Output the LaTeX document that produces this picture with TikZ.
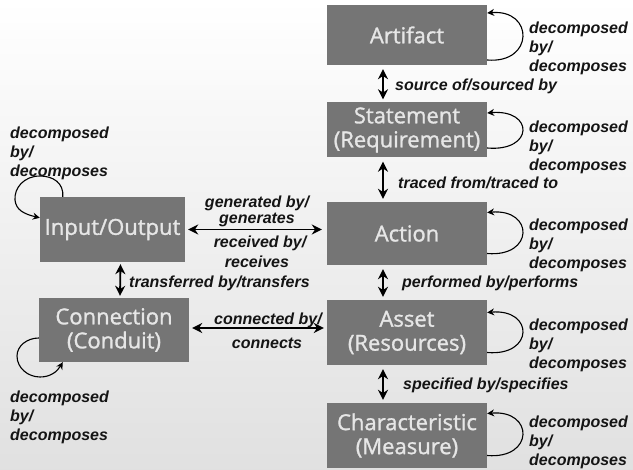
\documentclass[tikz,border=0pt]{standalone}
\usepackage{fontspec}
\newfontfamily\boxfont{Open Sans}[FakeBold=1.3]
\newfontfamily\lblfont{Liberation Sans}
\usetikzlibrary{arrows.meta,calc}
\definecolor{boxgray}{HTML}{757575}
\definecolor{boxtext}{HTML}{E6E6E6}
\begin{document}
\begin{tikzpicture}[x=1pt,y=-1pt,
  box/.style={fill=boxgray, text=boxtext, font=\boxfont\fontsize{22}{24}\selectfont,
    align=center, inner sep=0pt, minimum width=160pt},
  lbl/.style={font=\lblfont\bfseries\itshape\fontsize{16}{19}\selectfont, align=left, inner sep=0pt, text=black!92},
  clbl/.style={lbl, align=center},
  dbl/.style={{Stealth[length=10pt,width=10pt]}-{Stealth[length=10pt,width=10pt]}, line width=1.8pt},
  selfloop/.style={-{Stealth[length=7pt,width=7pt]}, line width=1.1pt}]
\useasboundingbox (0,0) rectangle (633,470);
\fill[top color=white, bottom color=black!12] (0,0) rectangle (633,470);

% right column
\node[box, minimum height=60pt] (art) at (407,35) {Artifact};
\node[box, minimum height=55pt] (stm) at (407,130) {Statement\\(Requirement)};
\node[box, minimum height=63pt] (act) at (407,233.5) {Action};
\node[box, minimum height=65pt] (ast) at (407,332.5) {Asset\\(Resources)};
\node[box, minimum height=65pt] (chr) at (407,435.5) {Characteristic\\(Measure)};
% left column
\node[box, minimum width=145pt, minimum height=65pt] (io) at (112.5,229.5) {Input/Output};
\node[box, minimum width=150pt, minimum height=64pt] (con) at (114,330) {Connection\\(Conduit)};

% vertical relations, right
\draw[dbl] ($(art.south)+(-24,4)$) -- ($(stm.north)+(-24,-3)$);
\draw[dbl] ($(stm.south)+(-24,4)$) -- ($(act.north)+(-24,-3)$);
\draw[dbl] ($(act.south)+(-24,4)$) -- ($(ast.north)+(-24,-3)$);
\draw[dbl] ($(ast.south)+(-24,4)$) -- ($(chr.north)+(-24,-3)$);
\node[lbl, anchor=west] (l1) at (395,86) {source of/sourced by};
\node[lbl, anchor=west] (l2) at (398,183) {traced from/traced to};
\node[lbl, anchor=west] (l3) at (402,283) {performed by/performs};
\node[lbl, anchor=west] (l4) at (403,385) {specified by/specifies};

% self loops, right
\foreach \b/\dd/\du/\ly in {art/25/22/48, stm/18/17/147, act/20/21/245, ast/20/20/345, chr/20/22/442}{
  \draw[selfloop] ($(\b.east)+(0,\dd)$) .. controls +(47,4) and +(47,-4) .. ($(\b.east)+(0,-\du)$);
  \node[lbl, anchor=west] (d\b) at (529,\ly) {decomposed\\by/\\decomposes};
}

% left loops
\draw[selfloop] ($(io.north west)+(23,0)$) .. controls (64,183) and (53,176) .. (40,176)
  .. controls (24,176) and (14,188) .. (15,200) .. controls (16,210) and (24,214) .. ($(io.north west)+(0,21)$);
\node[lbl, anchor=west] (dio) at (10,153.5) {decomposed\\by/\\decomposes};
\draw[selfloop] ($(con.west)+(0,8)$) .. controls (27,338) and (17,346) .. (17,356)
  .. controls (17,368) and (28,377) .. (40,377) .. controls (50,377) and (57,372) .. ($(con.south west)+(24,0)$);
\node[lbl, anchor=west] (dcon) at (10,417) {decomposed\\by/\\decomposes};

% horizontal relations
\draw[dbl, shorten <=3pt, shorten >=5pt] (io.east) -- (io.east -| act.west);
\node[clbl] (g1) at (257,203) {generated by/};
\node[clbl] (g2) at (257,220) {generates};
\node[clbl] (r1) at (260,243) {received by/};
\node[clbl] (r2) at (257,262) {receives};
\draw[dbl, shorten <=3pt, shorten >=3pt] ($(con.east)+(0,-2)$) -- ($(con.east -| ast.west)+(0,-2)$);
\node[clbl] (c1) at (268,320) {connected by/};
\node[clbl] (c2) at (267,343) {connects};
\draw[dbl] ($(io.south)+(8,2)$) -- ($(con.north)+(6,-2)$);
\node[lbl, anchor=west] (t1) at (129,283) {transferred by/transfers};
\end{tikzpicture}
\end{document}
